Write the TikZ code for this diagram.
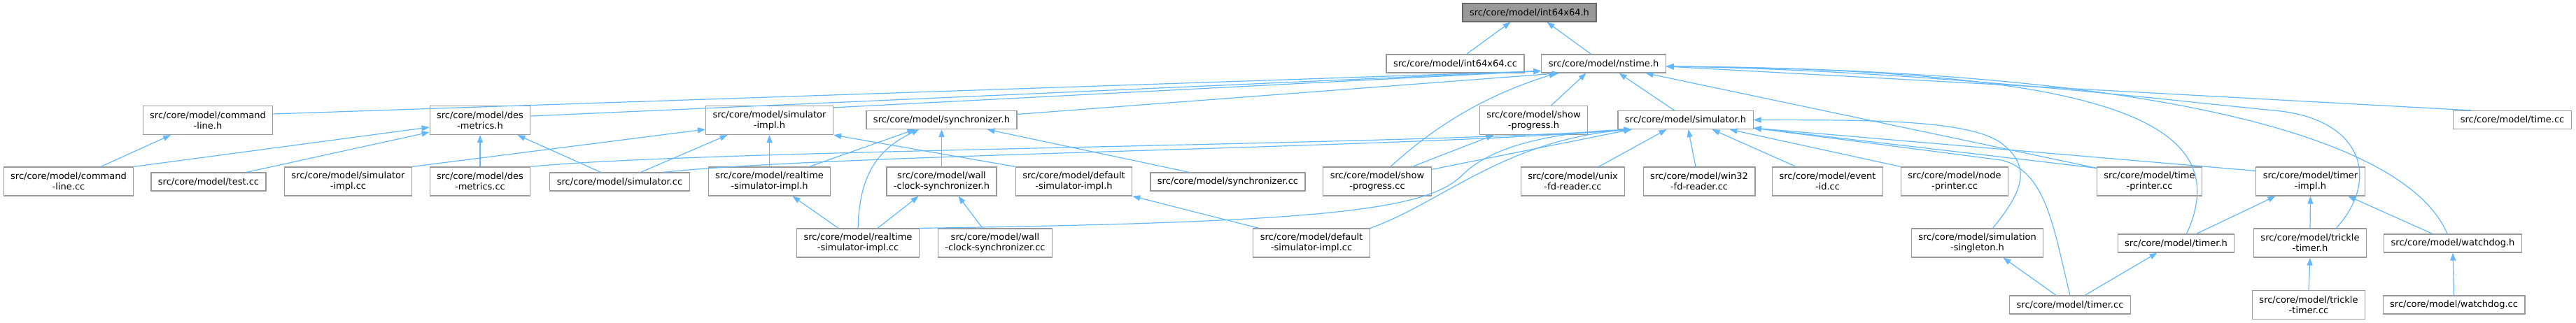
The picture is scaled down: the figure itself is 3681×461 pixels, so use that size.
\documentclass[tikz,border=0pt]{standalone}
\usepackage{fontspec}
\setmainfont{DejaVu Sans}
\usetikzlibrary{arrows.meta}
\definecolor{edgeblue}{HTML}{63B8FF}
\definecolor{boxgrey}{HTML}{999999}
\definecolor{rootline}{HTML}{666666}
\begin{document}
\begin{tikzpicture}[x=1pt, y=-1pt,
          file/.style={draw=boxgrey, line width=1.2pt, fill=white, align=center,
                       inner xsep=10pt, inner ysep=2pt, minimum height=26pt,
                       font=\fontsize{13}{15}\selectfont},
          file2/.style={file, minimum height=41pt},
          root/.style={file, fill=boxgrey, draw=rootline},
          dep/.style={draw=edgeblue, line width=1.2pt, -{Triangle[length=11pt,width=8pt]}}]
            \useasboundingbox (0,0) rectangle (3681,461);

            \node[root] (i64h) at (2185.5,18) {src/core/model/int64x64.h};

            \node[file] (i64cc)   at (2079.5,91) {src/core/model/int64x64.cc};
            \node[file] (nstimeh) at (2291.5,91) {src/core/model/nstime.h};

            \node[file2] (cmdh)     at (297,172)    {src/core/model/command\\-line.h};
            \node[file2] (desh)     at (686,172)    {src/core/model/des\\-metrics.h};
            \node[file2] (simimplh) at (1099.5,172) {src/core/model/simulator\\-impl.h};
            \node[file]  (synch)    at (1345.5,171.5) {src/core/model/synchronizer.h};
            \node[file2] (showh)    at (2191.5,172) {src/core/model/show\\-progress.h};
            \node[file]  (simh)     at (2408.5,171.5) {src/core/model/simulator.h};
            \node[file]  (timecc)   at (3590,171.5) {src/core/model/time.cc};

            \node[file2] (cmdcc)       at (98,259.5)     {src/core/model/command\\-line.cc};
            \node[file]  (testcc)      at (298,260)      {src/core/model/test.cc};
            \node[file2] (simimplcc)   at (497.5,259.5)  {src/core/model/simulator\\-impl.cc};
            \node[file2] (descc)       at (686,259.5)    {src/core/model/des\\-metrics.cc};
            \node[file]  (simcc)       at (885.5,260)    {src/core/model/simulator.cc};
            \node[file2] (rtimplh)     at (1099.5,259.5) {src/core/model/realtime\\-simulator-impl.h};
            \node[file2] (wcsynch)     at (1345.5,259.5) {src/core/model/wall\\-clock-synchronizer.h};
            \node[file2] (defimplh)    at (1534.5,259.5) {src/core/model/default\\-simulator-impl.h};
            \node[file]  (synccc)      at (1754.5,260)   {src/core/model/synchronizer.cc};
            \node[file2] (showcc)      at (1968,259.5)   {src/core/model/show\\-progress.cc};
            \node[file2] (unixcc)      at (2247.5,259.5) {src/core/model/unix\\-fd-reader.cc};
            \node[file2] (win32cc)     at (2428,259.5)   {src/core/model/win32\\-fd-reader.cc};
            \node[file2] (eventcc)     at (2611.5,259.5) {src/core/model/event\\-id.cc};
            \node[file2] (nodeprintcc) at (2793,259.5)   {src/core/model/node\\-printer.cc};
            \node[file2] (timeprintcc) at (3071.5,259.5) {src/core/model/time\\-printer.cc};
            \node[file2] (timerimplh)  at (3301.5,259.5) {src/core/model/timer\\-impl.h};

            \node[file2] (rtimplcc)  at (1226,347.5)   {src/core/model/realtime\\-simulator-impl.cc};
            \node[file2] (wcsynccc)  at (1422,347.5)   {src/core/model/wall\\-clock-synchronizer.cc};
            \node[file2] (defimplcc) at (1874,347.5)   {src/core/model/default\\-simulator-impl.cc};
            \node[file2] (simsingh)  at (2825.5,347.5) {src/core/model/simulation\\-singleton.h};
            \node[file]  (timerh)    at (3109.5,348)   {src/core/model/timer.h};
            \node[file2] (trickleh)  at (3301,347.5)   {src/core/model/trickle\\-timer.h};
            \node[file]  (watchdogh) at (3505,348)     {src/core/model/watchdog.h};

            \node[file]  (timercc)    at (2958,436)   {src/core/model/timer.cc};
            \node[file2] (tricklecc)  at (3299,436)   {src/core/model/trickle\\-timer.cc};
            \node[file]  (watchdogcc) at (3506.5,436) {src/core/model/watchdog.cc};

            % int64x64.h
            \draw[dep] ([xshift=16pt]i64cc.north) -- ([xshift=-27pt]i64h.south);
            \draw[dep] ([xshift=-18pt]nstimeh.north) -- ([xshift=25pt]i64h.south);

            % nstime.h
            \draw[dep] ([yshift=9pt]cmdh.east) -- ([yshift=3pt]nstimeh.south west);
            \draw[dep] ([yshift=6pt]desh.east) -- ([yshift=3pt]nstimeh.south west);
            \draw[dep] ([yshift=-3pt]simimplh.north east) -- ([yshift=3pt]nstimeh.south west);
            \draw[dep] ([yshift=8pt]synch.east) -- ([xshift=-63pt]nstimeh.south);
            \draw[dep] ([xshift=25pt]showh.north) -- ([xshift=-25pt]nstimeh.south);
            \draw[dep] ([xshift=-16pt]simh.north) -- ([xshift=22pt]nstimeh.south);
            \draw[dep] ([xshift=-59pt]timecc.north) -- ([yshift=-4pt]nstimeh.east);
            \draw[dep] ([xshift=19pt]showcc.north) .. controls (2040,190) and (2110,140) .. ([xshift=-67pt]nstimeh.south);
            \draw[dep] ([yshift=-2pt]timeprintcc.north west) -- ([xshift=60pt]nstimeh.south);
            \draw[dep] ([xshift=15pt]timerh.north) .. controls (3200,170) and (3000,100) .. ([yshift=-4pt]nstimeh.east);
            \draw[dep] ([xshift=37pt]trickleh.north) .. controls (3400,260) and (3380,170) .. (3250,158)
                       .. controls (3120,146) and (2750,100) .. ([yshift=-4pt]nstimeh.east);
            \draw[dep] ([xshift=-8pt]watchdogh.north) .. controls (3440,200) and (3100,100) .. ([yshift=-4pt]nstimeh.east);

            % command-line.h, des-metrics.h
            \draw[dep] ([xshift=46pt]cmdcc.north) -- ([xshift=-53pt]cmdh.south);
            \draw[dep] (cmdcc.north east) -- ([yshift=-10pt]desh.west);
            \draw[dep] ([xshift=54pt]testcc.north) -- ([yshift=4pt]desh.south west);
            \draw[dep] (descc.north) -- (desh.south);
            \draw[dep] ([xshift=-27pt]simcc.north) -- ([xshift=-19pt]desh.south east);

            % simulator-impl.h
            \draw[dep] (simimplcc.north east) -- ([yshift=-13pt]simimplh.west);
            \draw[dep] ([xshift=30pt]simcc.north) -- ([xshift=-60pt]simimplh.south);
            \draw[dep] (rtimplh.north) -- (simimplh.south);
            \draw[dep] (defimplh.north west) -- (simimplh.south east);

            % synchronizer.h
            \draw[dep] ([xshift=57pt]rtimplh.north) -- ([xshift=-38pt]synch.south);
            \draw[dep] (rtimplcc.north) .. controls (1228,255) and (1250,215) .. ([xshift=-32pt]synch.south);
            \draw[dep] (wcsynch.north) -- (synch.south);
            \draw[dep] ([xshift=-55pt]synccc.north) -- ([xshift=65pt]synch.south);

            % show-progress.h
            \draw[dep] ([xshift=50pt]showcc.north) -- ([xshift=-57pt]showh.south);

            % simulator.h
            \draw[dep] (descc.north east) .. controls (1000,214) and (2000,208) .. ([xshift=-77pt]simh.south);
            \draw[dep] ([xshift=62pt]simcc.north) .. controls (1200,220) and (2000,212) .. ([xshift=-77pt]simh.south);
            \draw[dep] (rtimplcc.north east) .. controls (1900,318) and (2040,300) .. (2090,250)
                       .. controls (2140,200) and (2250,188) .. ([xshift=-77pt]simh.south);
            \draw[dep] (defimplcc.north east) .. controls (2060,290) and (2150,200) .. ([xshift=-77pt]simh.south);
            \draw[dep] ([yshift=-4pt]showcc.north east) -- ([xshift=-77pt]simh.south);
            \draw[dep] ([xshift=37pt]unixcc.north) -- ([xshift=-27pt]simh.south);
            \draw[dep] ([xshift=-5pt]win32cc.north) -- ([xshift=4pt]simh.south);
            \draw[dep] ([xshift=-45pt]eventcc.north) -- ([xshift=38pt]simh.south);
            \draw[dep] (nodeprintcc.north west) -- ([xshift=63pt]simh.south);
            \draw[dep] ([yshift=-2pt]timeprintcc.north west) -- ([yshift=2pt]simh.south east);
            \draw[dep] ([yshift=-6pt]timerimplh.north west) -- ([yshift=2pt]simh.south east);
            \draw[dep] ([xshift=22pt]simsingh.north) .. controls (2885,280) and (2908,241) .. (2860,205)
                       .. controls (2812,169) and (2650,172) .. (simh.east);
            \draw[dep] (timercc.north) .. controls (2935,330) and (2925,245) .. (2860,229)
                       -- ([yshift=2pt]simh.south east);

            % realtime, wall-clock, default
            \draw[dep] ([xshift=-28pt]rtimplcc.north) -- ([xshift=33pt]rtimplh.south);
            \draw[dep] ([xshift=28pt]rtimplcc.north) -- ([xshift=-33pt]wcsynch.south);
            \draw[dep] ([xshift=-18pt]wcsynccc.north) -- ([xshift=24pt]wcsynch.south);
            \draw[dep] ([xshift=-75pt]defimplcc.north) -- (defimplh.south east);

            % timer-impl.h
            \draw[dep] ([xshift=29pt]timerh.north) -- ([xshift=-50pt]timerimplh.south);
            \draw[dep] (trickleh.north) -- (timerimplh.south);
            \draw[dep] ([xshift=-29pt]watchdogh.north) -- ([xshift=54pt]timerimplh.south);

            % timer.cc, trickle-timer.cc, watchdog.cc
            \draw[dep] ([xshift=-20pt]timercc.north) -- ([xshift=37pt]simsingh.south);
            \draw[dep] ([xshift=21pt]timercc.north) -- ([xshift=-27pt]timerh.south);
            \draw[dep] (tricklecc.north) -- (trickleh.south);
            \draw[dep] (watchdogcc.north) -- (watchdogh.south);
\end{tikzpicture}
\end{document}
